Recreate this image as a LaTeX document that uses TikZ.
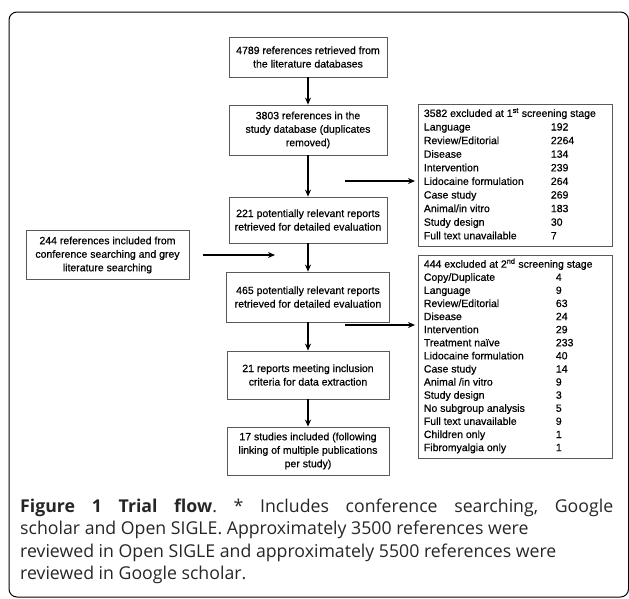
\documentclass[tikz,border=0pt]{standalone}
\usepackage{fontspec}
\setmainfont{Liberation Sans}
\newfontfamily\boxfont[FakeBold=0.6]{Liberation Sans}
\newfontfamily\captionfont{Open Sans}
\usepackage{array}
\usetikzlibrary{arrows.meta,positioning}

\tikzset{
  flowbox/.style={draw=black!65, line width=0.8pt, align=center, inner sep=2pt,
    font=\boxfont\fontsize{10.5}{13.5}\selectfont},
  exclbox/.style={draw=black!65, line width=0.8pt, anchor=north west,
    inner xsep=0pt, inner ysep=3pt, minimum width=194pt, font=\boxfont},
  flowarrow/.style={-{Stealth[length=7pt,width=6pt]}, line width=1.3pt},
  captionline/.style={anchor=base west, inner sep=0pt, text=black!85,
    font=\captionfont\fontsize{17.7}{22}\selectfont\frenchspacing},
}

\begin{document}
\begin{tikzpicture}[x=1pt,y=-1pt]
    \useasboundingbox (0,0) rectangle (629,598);
    % Draw the frame
    \draw[line width=1pt, rounded corners=8pt] (9,12) rectangle (628.5,597);
    % Draw the main column
    \node[flowbox, minimum width=158pt, minimum height=40pt] (refs) at (308,57)
        {4789 references retrieved from\\the literature databases};
    \node[flowbox, minimum width=158pt, minimum height=50pt] (studydb) at (308,130)
        {3803 references in the\\study database (duplicates\\removed)};
    \node[flowbox, minimum width=158pt, minimum height=46pt] (relevant) at (308,220)
        {221 potentially relevant reports\\retrieved for detailed evaluation};
    \node[flowbox, minimum width=163pt, minimum height=50pt] (relevanttwo) at (308,297)
        {465 potentially relevant reports\\retrieved for detailed evaluation};
    \node[flowbox, minimum width=162pt, minimum height=48pt] (inclusion) at (308,375)
        {21 reports meeting inclusion\\criteria for data extraction};
    \node[flowbox, minimum width=162pt, minimum height=48pt] (included) at (308,451)
        {17 studies included (following\\linking of multiple publications\\per study)};
    % Draw the grey literature box
    \node[flowbox, minimum width=163pt, minimum height=49pt] (greylit) at (107.5,255)
        {244 references included from\\conference searching and grey\\literature searching};
    % Draw the exclusion boxes
    \node[exclbox] (exclone) at (418,104) {\fontsize{10.5}{13.6}\selectfont
        \begin{tabular}{@{}p{127pt}@{}p{56pt}@{}}
            \multicolumn{2}{@{}l@{}}{3582 excluded at 1\textsuperscript{st} screening stage}\\
            Language & 192\\
            Review/Editorial & 2264\\
            Disease & 134\\
            Intervention & 239\\
            Lidocaine formulation & 264\\
            Case study & 269\\
            Animal/in vitro & 183\\
            Study design & 30\\
            Full text unavailable & 7
        \end{tabular}};
    \node[exclbox] (excltwo) at (418,255) {\fontsize{10.5}{13.1}\selectfont
        \begin{tabular}{@{}p{132pt}@{}p{51pt}@{}}
            \multicolumn{2}{@{}l@{}}{444 excluded at 2\textsuperscript{nd} screening stage}\\
            Copy/Duplicate & 4\\
            Language & 9\\
            Review/Editorial & 63\\
            Disease & 24\\
            Intervention & 29\\
            Treatment naïve & 233\\
            Lidocaine formulation & 40\\
            Case study & 14\\
            Animal /in vitro & 9\\
            Study design & 3\\
            No subgroup analysis & 5\\
            Full text unavailable & 9\\
            Children only & 1\\
            Fibromyalgia only & 1
        \end{tabular}};
    % Draw the arrows down the column
    \draw[flowarrow] (refs.south) -- (studydb.north);
    \draw[flowarrow] (studydb.south) -- (relevant.north);
    \draw[flowarrow] (relevant.south) -- (relevanttwo.north);
    \draw[flowarrow] (relevanttwo.south) -- (inclusion.north);
    \draw[flowarrow] (inclusion.south) -- (included.north);
    % Draw the side arrows
    \coordinate (greyend) at (275,255);
    \draw[flowarrow, shorten <=14pt] (greylit.east |- greyend) -- (greyend);
    \coordinate (cutone) at (345,181);
    \coordinate (cuttwo) at (345,325);
    \draw[flowarrow, shorten >=3pt] (cutone) -- (cutone -| exclone.west);
    \draw[flowarrow, shorten >=3pt] (cuttwo) -- (cuttwo -| excltwo.west);
    % Write the caption
    \node[captionline] (capone) at (20,512)
        {\makebox[593pt][s]{{\bfseries Figure 1 Trial flow}. * Includes conference searching, Google}};
    \node[captionline] (captwo) at (20,534.5)
        {scholar and Open SIGLE. Approximately 3500 references were};
    \node[captionline] (capthree) at (20,557)
        {reviewed in Open SIGLE and approximately 5500 references were};
    \node[captionline] (capfour) at (20,579.5)
        {reviewed in Google scholar.};
\end{tikzpicture}
\end{document}
